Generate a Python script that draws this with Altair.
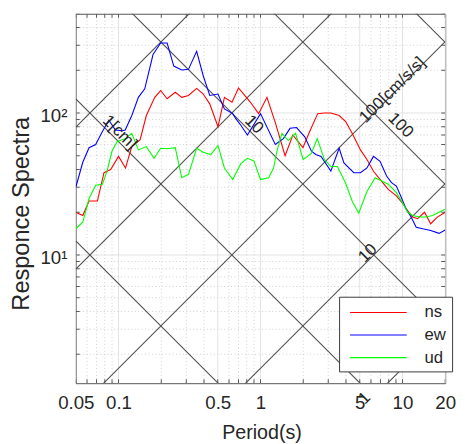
import math
import altair as alt
import pandas as pd

FONT = "Liberation Sans"

# ---- response spectra (period [s], value) ----
ns_T = [0.050, 0.056, 0.062, 0.071, 0.079, 0.088, 0.100, 0.112, 0.124, 0.142, 0.157, 0.180,
        0.198, 0.220, 0.251, 0.279, 0.311, 0.355, 0.395, 0.439, 0.502, 0.557, 0.63, 0.70,
        0.78, 0.85, 0.97, 1.11, 1.27, 1.49, 1.69, 1.99, 2.22, 2.53, 2.82, 3.13, 3.58, 3.98,
        4.42, 5.06, 5.62, 6.25, 6.95, 7.94, 9.06, 10.08, 10.9, 11.8, 12.8, 14.3, 15.8, 17.6, 20.0]
ns_V = [20, 19, 24, 24, 38, 40, 49.5, 41, 58, 65, 96, 129,
        144, 126, 140, 129, 133, 149, 136, 116, 80, 129, 119, 150,
        132, 119, 99, 129, 86, 50, 70, 57, 74, 99, 100, 100, 96, 87,
        72, 55, 47, 38.9, 34.1, 29, 26.1, 22.9, 20.5, 18.5, 18, 20, 16.6, 18.5, 20]

ew_T = [0.050, 0.056, 0.062, 0.069, 0.077, 0.0855, 0.095, 0.106, 0.1115, 0.124, 0.138, 0.153,
        0.175, 0.198, 0.220, 0.245, 0.279, 0.311, 0.355, 0.395, 0.439, 0.502, 0.557, 0.637,
        0.672, 0.727, 0.809, 1.0, 1.271, 1.449, 1.614, 1.795, 2.05, 2.28, 2.45, 2.67, 3.13,
        3.58, 3.87, 4.54, 5.06, 5.62, 6.25, 6.95, 7.73, 8.37, 9.06, 9.82, 10.6, 11.5, 12.5,
        13.9, 15.8, 18.1, 20.0]
ew_V = [30, 45, 57, 60, 74, 89, 76, 75, 76, 96, 129, 148,
        258, 311, 311, 214, 201, 203, 272, 183, 133, 136, 107, 99,
        91, 82, 70, 99, 60, 66, 78, 79, 68, 54, 51, 49.5, 39,
        56.5, 44.5, 38, 38, 41, 49.5, 45.7, 36, 32.3, 30.6, 25.4, 21.1, 18.5, 15.7,
        15.3, 14.9, 14.2, 15]

ud_T = [0.050, 0.056, 0.062, 0.069, 0.077, 0.083, 0.090, 0.098, 0.1115, 0.124, 0.138, 0.157,
        0.178, 0.198, 0.220, 0.251, 0.279, 0.311, 0.355, 0.395, 0.446, 0.502, 0.557, 0.637,
        0.727, 0.809, 0.899, 1.0, 1.141, 1.236, 1.305, 1.413, 1.570, 1.766, 1.995, 2.28,
        2.51, 2.82, 3.13, 3.48, 3.98, 4.42, 4.92, 5.62, 6.42, 6.95, 7.94, 9.06, 10.08, 10.9,
        11.8, 13.2, 14.6, 16.3, 18.1, 20.0]
ud_V = [15.3, 17, 25, 31, 31.5, 39, 54, 63, 66, 72, 55, 58,
        48, 56.5, 56, 57, 35, 37, 56.5, 53, 51, 59, 41, 34,
        44, 48, 46, 34, 35, 41, 54, 72, 64, 72, 47, 52,
        66, 47, 42, 42, 32, 24, 19.7, 28, 35, 33.6, 31.5, 27.5, 23, 20,
        19, 18.5, 18.5, 19, 20, 21]

series_names = ["ns", "ew", "ud"]
series_colors = ["#ff0000", "#0000ff", "#00ff00"]

# ---- axes ----
x_ticks = [0.05, 0.1, 0.5, 1, 5, 10, 20]
x_minor = [0.06, 0.07, 0.08, 0.09, 0.2, 0.3, 0.4, 0.6, 0.7, 0.8, 0.9,
           2, 3, 4, 6, 7, 8, 9]
y_ticks = [10, 100]
y_tick_labels = ["10¹", "10²"]
y_minor = [2, 3, 4, 5, 6, 7, 8, 9, 20, 30, 40, 50, 60, 70, 80, 90, 200, 300, 400, 500]
x_domain = [0.05, 20]
y_domain = [1.25, 500]

# ---- tripartite guide lines ----
disp_levels = [0.01, 0.1, 1, 10, 100, 1000]     # cm
acc_levels = [1, 10, 100, 1000, 10000]          # cm/s/s

down_labels = ["1[cm]", "10", "100"]
down_T = [0.102, 0.9, 9.7]
down_V = [73, 83, 82]
up_labels = ["100[cm/s/s]", "10", "1"]
up_T = [8.5, 5.7, 5.4]
up_V = [145, 10.3, 0.98]

W = 376
H = 376

spec_rows = []
for name, Ts, Vs in [("ns", ns_T, ns_V), ("ew", ew_T, ew_V), ("ud", ud_T, ud_V)]:
    for i, (t, v) in enumerate(zip(Ts, Vs)):
        spec_rows.append({"series": name, "T": t, "V": v, "i": i})
spec_df = pd.DataFrame(spec_rows)

guide_rows = []
for d in disp_levels:
    for t in x_domain:
        guide_rows.append({"g": f"d{d}", "T": t, "V": 2 * math.pi * d / t})
for a in acc_levels:
    for t in x_domain:
        guide_rows.append({"g": f"a{a}", "T": t, "V": a * t / (2 * math.pi)})
guide_df = pd.DataFrame(guide_rows)

xs = alt.Scale(type="log", domain=x_domain, nice=False)
ys = alt.Scale(type="log", domain=y_domain, nice=False)

label_expr = " : ".join(
    f"datum.value == {v} ? '{l}'" for v, l in zip(y_ticks, y_tick_labels)
) + " : ''"

x_axis = alt.Axis(values=x_ticks, format="~g", grid=False, ticks=False, domain=False,
                  labelFontSize=19, labelFont=FONT, labelColor="#262626",
                  labelPadding=11, labelFlush=False, labelOverlap=False,
                  titleFont=FONT, titleFontSize=20, titleFontWeight="normal",
                  titleColor="#262626", titleX=189, titleY=56,
                  titleBaseline="alphabetic", titleAlign="center")
y_axis = alt.Axis(values=y_ticks, labelExpr=label_expr, grid=False, ticks=False,
                  domain=False, labelFontSize=19, labelFont=FONT,
                  labelColor="#262626", labelPadding=9, labelOffset=3,
                  titleFont=FONT, titleFontSize=24, titleFontWeight="normal",
                  titleColor="#262626", titleX=-48, titleY=203,
                  titleBaseline="alphabetic", titleAngle=270, titleAlign="center")

X = alt.X("T:Q", scale=xs, title="Period(s)", axis=x_axis)
Y = alt.Y("V:Q", scale=ys, title="Responce Spectra", axis=y_axis)

minor_x = alt.Chart(pd.DataFrame({"T": x_minor})).mark_rule(
    color="#c4c4c4", strokeWidth=0.8, strokeDash=[1, 2.5]
).encode(x=X)
minor_y = alt.Chart(pd.DataFrame({"V": y_minor})).mark_rule(
    color="#c4c4c4", strokeWidth=0.8, strokeDash=[1, 2.5]
).encode(y=Y)
major_x = alt.Chart(pd.DataFrame({"T": x_ticks})).mark_rule(
    color="#e2e2e2", strokeWidth=1
).encode(x=X)
major_y = alt.Chart(pd.DataFrame({"V": y_ticks})).mark_rule(
    color="#e2e2e2", strokeWidth=1
).encode(y=Y)

guides = alt.Chart(guide_df).mark_line(color="#505050", strokeWidth=1.1, clip=True).encode(
    x=X, y=Y, detail="g:N",
)

lines = alt.Chart(spec_df).mark_line(strokeWidth=1.1, clip=True).encode(
    x=X,
    y=Y,
    color=alt.Color("series:N", sort=series_names,
                    scale=alt.Scale(domain=series_names, range=series_colors),
                    legend=alt.Legend(orient="none", legendX=268, legendY=288, title=None,
                                      symbolType="M-3.2,0H3.2", symbolSize=324,
                                      symbolStrokeWidth=1.1, symbolOffset=24,
                                      labelOffset=37, labelFontSize=17, labelFont=FONT,
                                      labelColor="#262626", padding=6, rowPadding=5,
                                      strokeColor="#3a3a3a", fillColor="white",
                                      labelExpr="datum.label + '    '")),
    order="i:Q",
)

tick_df_x = pd.DataFrame({"T": x_ticks + x_minor})
tick_df_y = pd.DataFrame({"V": y_ticks + y_minor})
TL = 4
tick_color = "#555555"
ticks_bottom = alt.Chart(tick_df_x).mark_rule(color=tick_color, clip=True).encode(
    x=X, y=alt.value(H), y2=alt.value(H - TL))
ticks_top = alt.Chart(tick_df_x).mark_rule(color=tick_color, clip=True).encode(
    x=X, y=alt.value(0), y2=alt.value(TL))
ticks_left = alt.Chart(tick_df_y).mark_rule(color=tick_color, clip=True).encode(
    y=Y, x=alt.value(0), x2=alt.value(TL))
ticks_right = alt.Chart(tick_df_y).mark_rule(color=tick_color, clip=True).encode(
    y=Y, x=alt.value(W), x2=alt.value(W - TL))

down_text = alt.Chart(pd.DataFrame({"T": down_T, "V": down_V, "t": down_labels})).mark_text(
    angle=45, font=FONT, fontSize=17, color="#262626", align="center", baseline="middle"
).encode(x=X, y=Y, text="t:N")
up_text = alt.Chart(pd.DataFrame({"T": up_T, "V": up_V, "t": up_labels})).mark_text(
    angle=315, font=FONT, fontSize=17, color="#262626", align="center", baseline="middle"
).encode(x=X, y=Y, text="t:N")

chart = alt.layer(
    major_x, major_y, minor_x, minor_y, guides, lines,
    ticks_bottom, ticks_top, ticks_left, ticks_right, down_text, up_text,
).properties(
    width=W, height=H,
    autosize=alt.AutoSizeParams(type="none"),
    padding={"left": 69, "top": 2, "right": 12, "bottom": 58},
    background="white",
).configure_view(
    stroke="#555555", strokeWidth=1
)

chart.save("out.html", embed_options={"renderer": "svg", "actions": False})
